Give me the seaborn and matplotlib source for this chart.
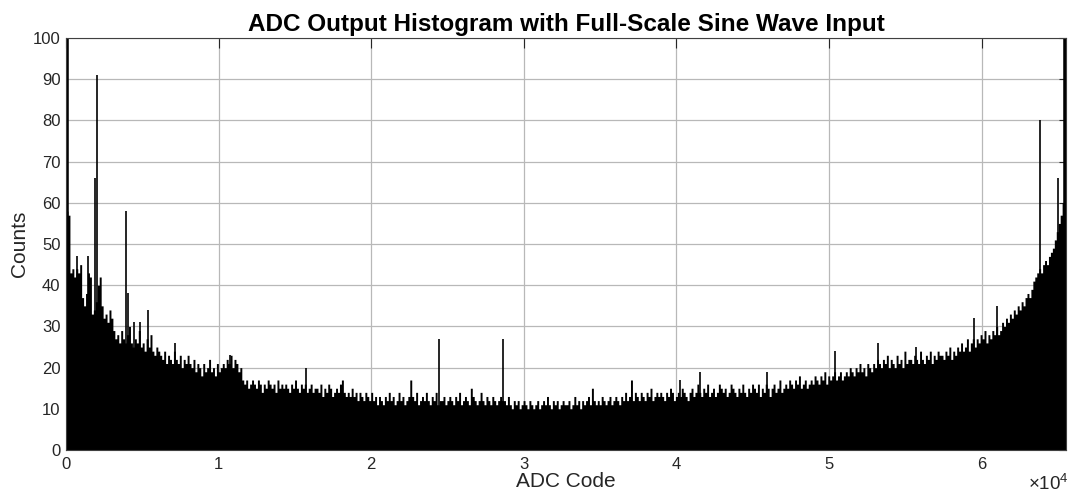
import numpy as np
import pandas as pd
import matplotlib
matplotlib.use("Agg")
import matplotlib.pyplot as plt
import seaborn as sns

# histogram, 128 codes per bin (bin k covers codes 128*k .. 128*k+127)
bin_width = 128
bin_counts = [
    58, 57, 43, 44, 42, 44, 43, 45, 37, 35, 38, 43, 42, 33, 34, 36,
    40, 42, 35, 32, 33, 31, 34, 32, 29, 27, 28, 26, 29, 27, 26, 28,
    30, 26, 25, 27, 26, 29, 25, 26, 24, 27, 25, 28, 24, 23, 25, 24,
    23, 22, 24, 21, 23, 22, 21, 24, 22, 21, 23, 20, 22, 21, 23, 21,
    20, 22, 19, 21, 20, 18, 21, 19, 20, 22, 19, 20, 18, 21, 19, 20,
    21, 20, 22, 21, 23, 20, 22, 21, 19, 20, 17, 16, 17, 15, 16, 17,
    16, 15, 17, 16, 14, 16, 15, 17, 16, 15, 16, 14, 17, 15, 16, 15,
    16, 15, 14, 16, 15, 17, 15, 14, 16, 15, 16, 14, 15, 16, 14, 15,
    15, 14, 16, 13, 15, 14, 16, 15, 13, 14, 15, 14, 16, 17, 14, 13,
    14, 13, 15, 13, 14, 12, 14, 13, 12, 14, 13, 12, 14, 12, 13, 11,
    13, 12, 11, 13, 12, 14, 12, 13, 11, 12, 14, 12, 13, 11, 12, 13,
    17, 13, 12, 14, 11, 12, 13, 12, 14, 12, 11, 13, 12, 14, 11, 12,
    12, 13, 11, 12, 13, 12, 11, 13, 12, 14, 11, 12, 13, 12, 11, 15,
    13, 12, 11, 12, 14, 12, 11, 13, 12, 11, 13, 12, 11, 12, 13, 12,
    12, 11, 13, 11, 10, 12, 11, 12, 10, 11, 12, 11, 10, 12, 11, 10,
    11, 12, 10, 11, 12, 11, 13, 11, 10, 12, 11, 12, 10, 11, 12, 11,
    11, 12, 10, 11, 13, 11, 12, 10, 12, 11, 12, 13, 11, 15, 12, 11,
    12, 11, 13, 12, 11, 12, 13, 11, 12, 13, 12, 11, 13, 12, 14, 12,
    13, 17, 12, 14, 13, 12, 14, 13, 12, 14, 13, 15, 12, 13, 14, 13,
    14, 13, 12, 14, 13, 15, 14, 12, 13, 14, 13, 15, 14, 13, 12, 14,
    15, 13, 14, 16, 14, 13, 15, 14, 16, 13, 14, 15, 13, 14, 16, 15,
    14, 15, 13, 14, 16, 15, 14, 13, 15, 14, 16, 14, 13, 15, 14, 16,
    15, 14, 16, 13, 15, 14, 16, 15, 13, 15, 16, 14, 15, 17, 14, 15,
    16, 15, 17, 16, 15, 17, 16, 18, 15, 16, 17, 15, 16, 17, 16, 18,
    17, 16, 18, 17, 19, 16, 18, 17, 18, 19, 17, 18, 19, 17, 18, 19,
    18, 20, 19, 18, 20, 19, 21, 19, 20, 18, 21, 20, 19, 21, 20, 22,
    21, 20, 22, 21, 23, 20, 22, 21, 20, 23, 21, 22, 20, 24, 21, 22,
    22, 21, 23, 22, 21, 24, 22, 21, 23, 22, 24, 21, 23, 22, 24, 23,
    23, 22, 24, 23, 25, 22, 24, 23, 25, 24, 26, 24, 25, 27, 24, 26,
    27, 25, 27, 26, 28, 27, 29, 26, 28, 27, 29, 28, 30, 28, 29, 31,
    30, 32, 31, 33, 32, 34, 33, 35, 34, 36, 35, 37, 38, 37, 39, 41,
    42, 43, 44, 43, 45, 46, 45, 47, 48, 49, 51, 53, 55, 57, 60, 64,
]

# single-code spikes (missing / wide codes)
spike_codes = [720, 1440, 1900, 2030, 3930, 4070, 4460, 4850, 5370, 7150,
               10750, 15700, 24450, 28640, 40250, 41550, 45950, 50400,
               53200, 55700, 59500, 61000, 63800, 65030]
spike_counts = [47, 47, 66, 91, 58, 38, 31, 31, 34, 26,
                23, 20, 27, 27, 17, 19, 19, 24,
                26, 25, 32, 35, 80, 66]

# clipped end codes (sine wave saturates the converter)
edge_codes = [0, 65535]
edge_counts = [1400, 1400]

x_ticks = [0, 10000, 20000, 30000, 40000, 50000, 60000]
x_tick_labels = ["0", "1", "2", "3", "4", "5", "6"]
y_ticks = list(range(0, 101, 10))

sns.set_style("white")
plt.rcParams["font.family"] = ["Liberation Sans", "DejaVu Sans"]
plt.rcParams["mathtext.fontset"] = "custom"
plt.rcParams["mathtext.rm"] = "Liberation Sans"

df = pd.DataFrame({
    "code": np.arange(len(bin_counts)) * bin_width + bin_width / 2,
    "count": bin_counts,
})
bin_edges = list(range(0, 65536 + bin_width, bin_width))

fig = plt.figure(figsize=(10.70, 4.94), dpi=100)
ax = fig.add_axes([0.0617, 0.089, 0.9346, 0.834])

sns.histplot(data=df, x="code", weights="count", bins=bin_edges,
             element="step", fill=True, color="black", alpha=1,
             linewidth=0, ax=ax, zorder=3)
ax.vlines(spike_codes, 0, spike_counts, color="black", linewidth=1.2, zorder=3)
ax.vlines(edge_codes, 0, edge_counts, color="black", linewidth=4, zorder=3)

ax.set_xlim(0, 65536)
ax.set_ylim(0, 100)
ax.set_xticks(x_ticks)
ax.set_xticklabels(x_tick_labels)
ax.set_yticks(y_ticks)
ax.grid(True, color="#b8b8b8", linewidth=0.9, zorder=0)
ax.set_axisbelow(True)

ax.tick_params(axis="both", direction="in", labelsize=12, colors="#262626",
               top=True, right=True)
ax.tick_params(axis="x", length=7, pad=5)
ax.tick_params(axis="y", length=5, pad=4)
for s in ax.spines.values():
    s.set_color("#404040")
    s.set_linewidth(0.8)
    s.set_zorder(4)

ax.set_title("ADC Output Histogram with Full-Scale Sine Wave Input",
             fontsize=17.5, fontweight="bold", pad=5, color="black")
ax.set_xlabel("ADC Code", fontsize=15, labelpad=0, color="#262626")
ax.set_ylabel("Counts", fontsize=15, labelpad=3, color="#262626")
fig.text(0.999, 0.0, r"$\times10^{4}$", ha="right", va="bottom",
         fontsize=13.5, color="#262626")

fig.savefig("out.png", dpi=100)
